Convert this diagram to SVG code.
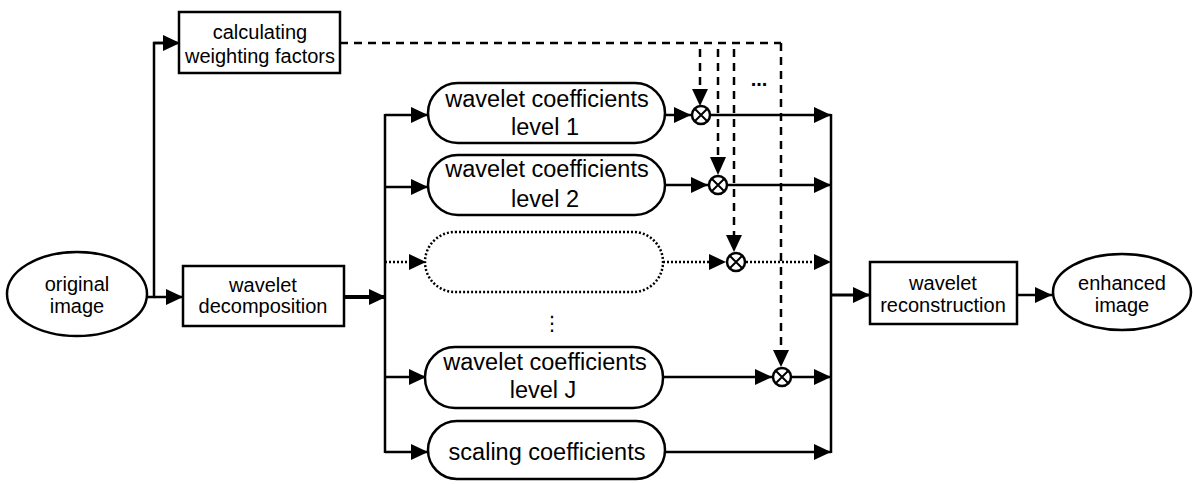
<svg xmlns="http://www.w3.org/2000/svg" width="1193" height="484" viewBox="0 0 1193 484">
<defs>
<marker id="ah" markerUnits="userSpaceOnUse" markerWidth="18" markerHeight="16" refX="17" refY="8" orient="auto"><path d="M0,0 L17,8 L0,16 z" fill="#000"/></marker>
<style>
.box{fill:#fff;stroke:#000;stroke-width:2.5}
.dot{fill:#fff;stroke:#000;stroke-width:2.5;stroke-dasharray:2 2}
.t{font-family:"Liberation Sans",Arial,sans-serif;font-size:20px;text-anchor:middle;fill:#000}
.tp{font-family:"Liberation Sans",Arial,sans-serif;font-size:23.5px;text-anchor:middle;fill:#000}
.ln{fill:none;stroke:#000;stroke-width:2.5}
.ar{fill:none;stroke:#000;stroke-width:2.5;marker-end:url(#ah)}
.da{fill:none;stroke:#000;stroke-width:2.5;stroke-dasharray:8 6}
.dt{fill:none;stroke:#000;stroke-width:2.5;stroke-dasharray:2 2}
.mul{fill:#fff;stroke:#000;stroke-width:2.5}
</style>
</defs>
<g id="connectors">
<polyline class="ln" points="147,297 154,297 154,43 165,43"/>
<line class="ar" x1="154" y1="43" x2="180" y2="43"/>
<line class="ar" x1="154" y1="297" x2="183" y2="297"/>
<line class="ar" x1="344" y1="297" x2="386" y2="297" style="stroke-width:4"/>
<line class="ln" x1="385" y1="114" x2="385" y2="453"/>
<line class="ar" x1="385" y1="115" x2="428" y2="115"/>
<line class="ar" x1="385" y1="187" x2="428" y2="187"/>
<line class="dt" x1="385" y1="262" x2="410" y2="262"/>
<path d="M409,254 L426,262 L409,270 z"/>
<line class="ar" x1="385" y1="377" x2="426" y2="377"/>
<line class="ar" x1="385" y1="452" x2="428" y2="452"/>
<line class="ar" x1="665" y1="115" x2="691" y2="115"/>
<line class="ar" x1="665" y1="185" x2="708" y2="185"/>
<line class="dt" x1="663" y1="262" x2="710" y2="262"/>
<path d="M709,254 L726,262 L709,270 z"/>
<line class="ar" x1="663" y1="377" x2="772" y2="377"/>
<line class="ar" x1="711" y1="115" x2="831" y2="115"/>
<line class="ar" x1="728" y1="185" x2="831" y2="185"/>
<line class="dt" x1="746" y1="262" x2="814" y2="262"/>
<path d="M814,254 L831,262 L814,270 z"/>
<line class="ar" x1="792" y1="377" x2="831" y2="377"/>
<line class="ar" x1="665" y1="452" x2="831" y2="452"/>
<line class="ln" x1="831" y1="114" x2="831" y2="453"/>
<line class="ar" x1="831" y1="295" x2="870" y2="295" style="stroke-width:3"/>
<line class="ar" x1="1017" y1="295" x2="1052" y2="295"/>
<line class="da" x1="340" y1="43" x2="781" y2="43"/>
<line class="da" x1="781" y1="43" x2="781" y2="352"/>
<path d="M773,350 L781,367 L789,350 z"/>
<line class="da" x1="734" y1="49" x2="734" y2="238"/>
<path d="M726,235 L734,252 L742,235 z"/>
<line class="da" x1="718" y1="49" x2="718" y2="160"/>
<path d="M710,157 L718,175 L726,157 z"/>
<line class="da" x1="700" y1="49" x2="700" y2="92"/>
<path d="M692,89 L700,106 L708,89 z"/>
</g>
<g id="original-image"><ellipse class="box" cx="77" cy="294" rx="70" ry="42"/><text class="t" x="77" y="291">original</text><text class="t" x="77" y="313">image</text></g>
<g id="calc-weights"><rect class="box" x="179" y="12" width="161" height="61"/><text class="t" x="260" y="39">calculating</text><text class="t" x="260" y="63">weighting factors</text></g>
<g id="wavelet-decomposition"><rect class="box" x="183" y="266" width="161" height="60"/><text class="t" x="263" y="292">wavelet</text><text class="t" x="263" y="313">decomposition</text></g>
<g id="level1"><rect class="box" x="428" y="83" width="237" height="60" rx="30"/><text class="tp" x="547" y="107">wavelet coefficients</text><text class="tp" x="545" y="135">level 1</text></g>
<g id="level2"><rect class="box" x="428" y="155" width="237" height="60" rx="30"/><text class="tp" x="547" y="177">wavelet coefficients</text><text class="tp" x="545" y="207">level 2</text></g>
<g id="levelx"><rect class="dot" x="425" y="232" width="238" height="60" rx="30"/></g>
<g id="vdots"><text x="552" y="330" style="font-family:'DejaVu Sans',sans-serif;font-size:20px;text-anchor:middle">⋮</text></g>
<g id="levelJ"><rect class="box" x="425" y="347" width="238" height="61" rx="30"/><text class="tp" x="545" y="370">wavelet coefficients</text><text class="tp" x="543" y="398">level J</text></g>
<g id="scaling"><rect class="box" x="428" y="421" width="237" height="58" rx="29"/><text class="tp" x="547" y="460">scaling coefficients</text></g>
<g id="mul1"><circle class="mul" cx="701" cy="115" r="9"/><path class="ln" d="M695,109 L707,121 M707,109 L695,121" style="stroke-width:2"/></g>
<g id="mul2"><circle class="mul" cx="718" cy="185" r="9"/><path class="ln" d="M712,179 L724,191 M724,179 L712,191" style="stroke-width:2"/></g>
<g id="mul3"><circle class="mul" cx="736" cy="262" r="9"/><path class="ln" d="M730,256 L742,268 M742,256 L730,268" style="stroke-width:2"/></g>
<g id="mulJ"><circle class="mul" cx="782" cy="377" r="9"/><path class="ln" d="M776,371 L788,383 M788,371 L776,383" style="stroke-width:2"/></g>
<g id="hdots"><text x="759" y="86" style="font-family:'Liberation Sans',sans-serif;font-size:20px;font-weight:bold;text-anchor:middle">...</text></g>
<g id="wavelet-reconstruction"><rect class="box" x="870" y="262" width="147" height="62"/><text class="t" x="943" y="290">wavelet</text><text class="t" x="943" y="312">reconstruction</text></g>
<g id="enhanced-image"><ellipse class="box" cx="1122" cy="292" rx="69" ry="38"/><text class="t" x="1122" y="290">enhanced</text><text class="t" x="1122" y="312">image</text></g>
</svg>
